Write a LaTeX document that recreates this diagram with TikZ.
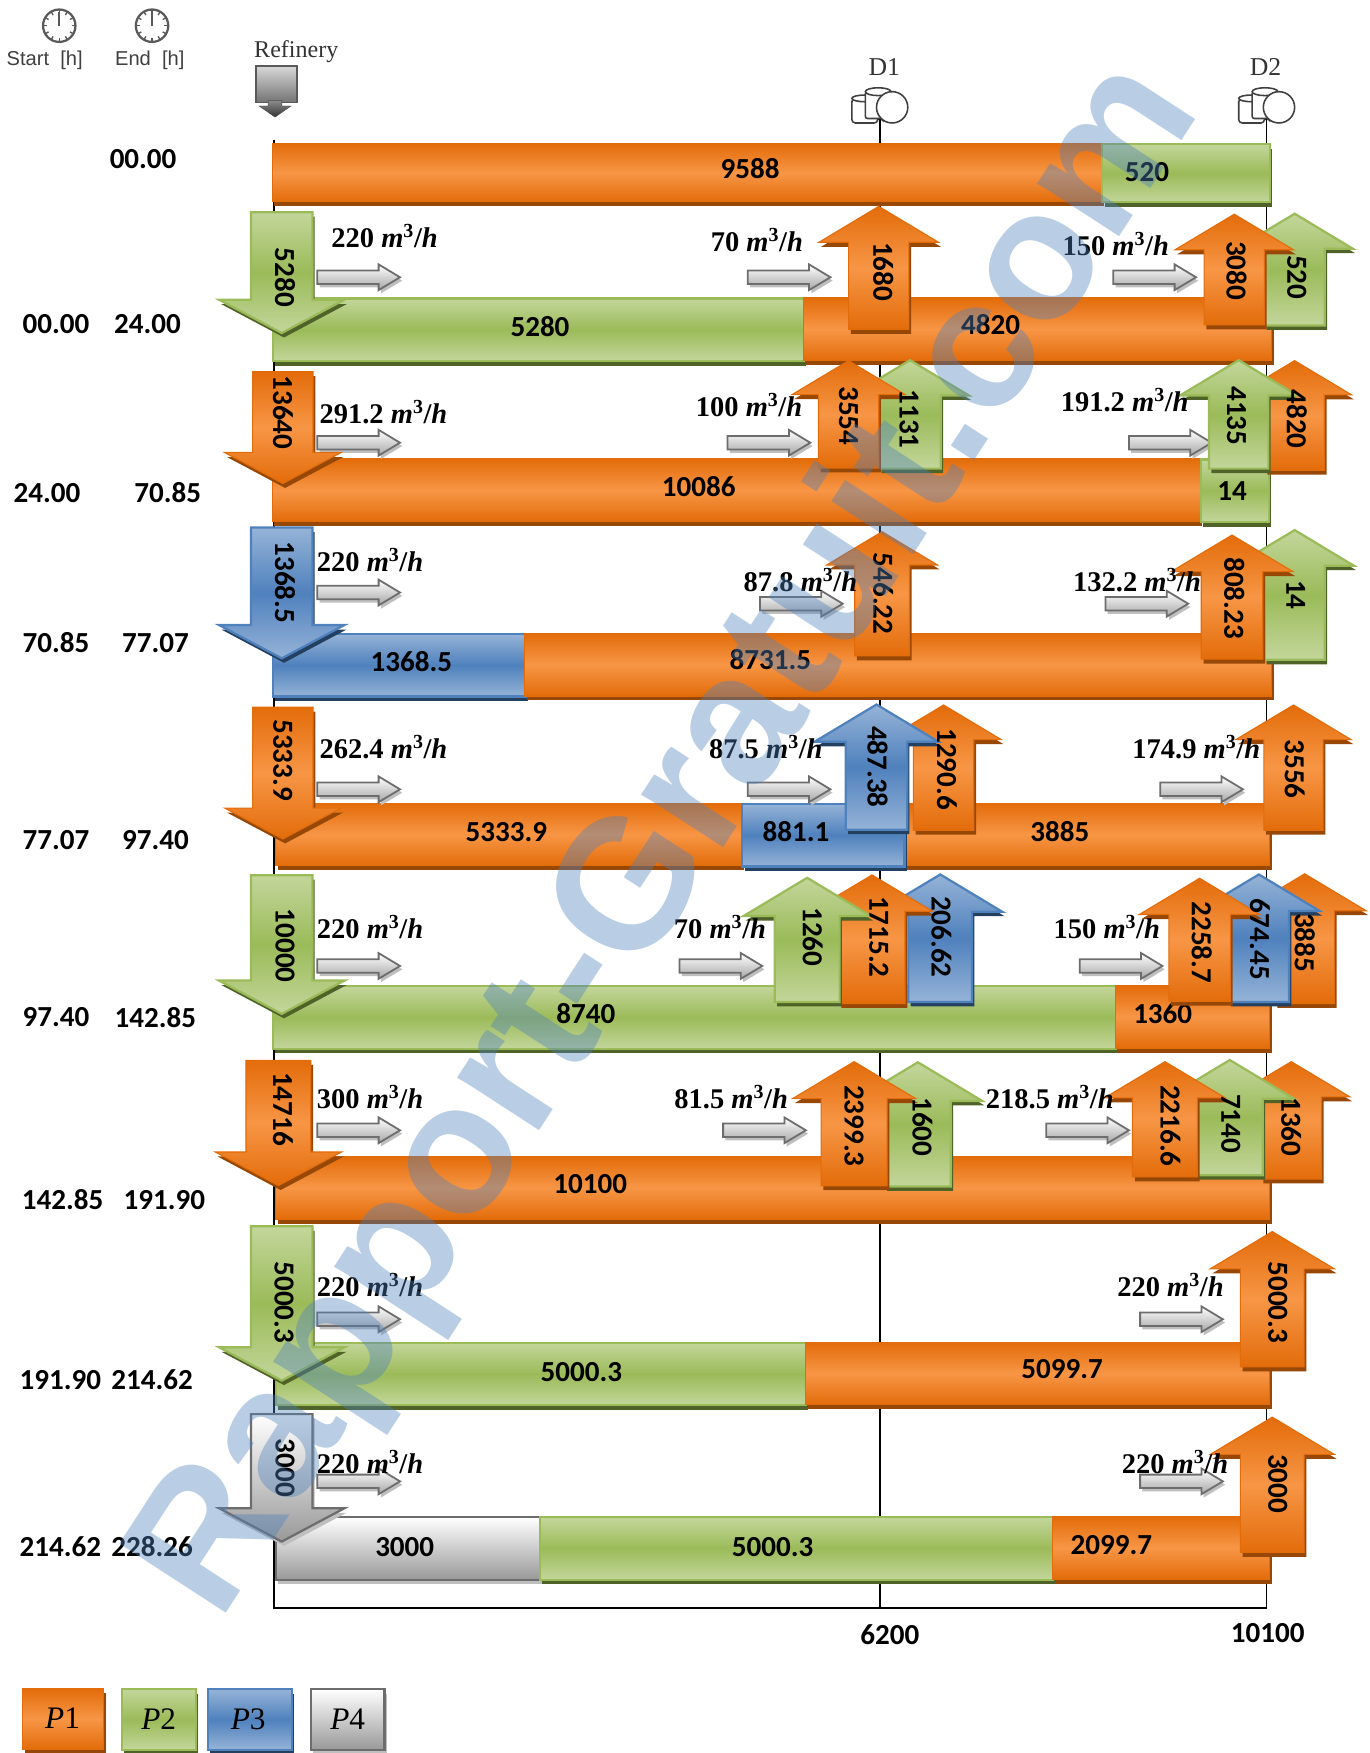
\documentclass[tikz,border=0pt]{standalone}
\usepackage{fontspec}
\usepackage{xcolor}
\usetikzlibrary{arrows.meta, shapes.arrows, shadows}
\setmainfont{Carlito}
\newfontfamily\ratefont{Liberation Serif}
\newfontfamily\headfont{Liberation Sans}
\definecolor{oilmid}{HTML}{f79646}
\definecolor{oiledge}{HTML}{e36c0a}
\definecolor{oildark}{HTML}{974806}
\definecolor{greenmid}{HTML}{9bbb59}
\definecolor{greenedge}{HTML}{c3d69b}
\definecolor{greendark}{HTML}{4f6228}
\definecolor{bluemid}{HTML}{4f81bd}
\definecolor{blueedge}{HTML}{95b3d7}
\definecolor{bluedark}{HTML}{244061}
\definecolor{greyline}{HTML}{6d6d6d}
\definecolor{greydark}{HTML}{bfbfbf}
\definecolor{markblue}{HTML}{4f81bd}
\newcommand{\rate}[1]{{\ratefont\bfseries #1 \textit{m}\textsuperscript{3}/\textit{h}}}

\begin{document}
\begin{tikzpicture}[
  x=1pt, y=-1pt,
  >=Stealth,
  p1/.style={top color=oiledge, bottom color=oiledge, middle color=oilmid, draw=oiledge, line width=1pt,
    drop shadow={shadow xshift=2pt, shadow yshift=-4pt, fill=oildark, opacity=1}},
  p2/.style={top color=greenedge, bottom color=greenedge, middle color=greenmid, draw=greenmid, line width=2pt,
    drop shadow={shadow xshift=2pt, shadow yshift=-4pt, fill=greendark, opacity=1}},
  p3/.style={top color=blueedge, bottom color=blueedge, middle color=bluemid, draw=bluemid, line width=2pt,
    drop shadow={shadow xshift=2pt, shadow yshift=-4pt, fill=bluedark, opacity=1}},
  p4/.style={top color=white, bottom color=black!40, draw=greyline, line width=2pt,
    drop shadow={shadow xshift=2pt, shadow yshift=-4pt, fill=greydark, opacity=1}},
  barbox/.style={rectangle, anchor=north west, inner sep=0pt, minimum height=56pt},
  uparr/.style={single arrow, anchor=tip, shape border rotate=90, inner ysep=0pt, single arrow tip angle=118},
  downarr/.style={single arrow, anchor=tip, shape border rotate=270, inner ysep=0pt, single arrow tip angle=124},
  flowarr/.style={single arrow, anchor=tail, shape border rotate=0, inner xsep=0pt, inner ysep=5.2pt,
    minimum height=74pt, single arrow head extend=5.5pt, single arrow tip angle=62,
    top color=white, bottom color=black!35, draw=greyline, line width=1.6pt,
    drop shadow={shadow xshift=2pt, shadow yshift=-3pt, fill=greydark, opacity=1}},
  numtxt/.style={font=\fontsize{26}{28}\selectfont\bfseries, inner sep=0pt},
  sidetxt/.style={numtxt, rotate=-90},
  ratetxt/.style={font=\fontsize{25.5}{28}\selectfont, inner sep=0pt},
  headtxt/.style={font=\fontsize{18}{20}\selectfont\headfont, text=black!75, inner sep=0pt},
  sitetxt/.style={font=\fontsize{23}{26}\selectfont\ratefont, text=black!80, inner sep=0pt},
  legbox/.style={rectangle, anchor=north west, inner sep=0pt, minimum height=54pt},
  legtxt/.style={font=\fontsize{28}{30}\selectfont\ratefont, inner sep=0pt},
  tankline/.style={draw=black!75, line width=1.4pt, fill=white}
]
\useasboundingbox (0,0) rectangle (1225,1568);

% ---- Axes ----
\coordinate (axr) at (245,125);
\coordinate (axo) at (245,1438);
\coordinate (ax1) at (787,100);
\coordinate (ax1b) at (787,1438);
\coordinate (ax2) at (1133,100);
\coordinate (ax2b) at (1133,1438);
\draw[line width=1.6pt] (axr) -- (axo) -- (ax2b);
\draw[->, line width=1.4pt] (ax1b) -- (ax1);
\draw[->, line width=1.4pt] (ax2b) -- (ax2);
\node[numtxt] (lab6200) at (796,1462) {6200};
\node[numtxt] (lab10100) at (1134,1461) {10100};

% ---- Header icons ----
\foreach \x/\txt/\tx in {53/Start/40, 136/End/134} {
  \draw[draw=black!65, line width=2pt, fill=white] (\x,23) circle (14.5);
  \foreach \a in {0,30,...,330}
    \draw[black!65, line width=1.2pt] (\x,23) ++(\a:14.5) -- ++(\a:-3.5);
  \draw[black!65, line width=2.2pt] (\x,23) -- (\x,11);
  \node[headtxt] (head\txt) at (\tx,54) {\txt\ \ [h]};
}
\node[sitetxt, font=\fontsize{21.5}{24}\selectfont\ratefont] (refinery) at (265,46) {Refinery};
\node[rectangle, anchor=north west, inner sep=0pt, minimum width=37pt, minimum height=33pt,
  top color=black!15, bottom color=black!55, draw=black!65, line width=1.5pt] (refbox) at (228,58) {};
\node[single arrow, anchor=tip, shape border rotate=270, inner ysep=0pt, inner xsep=6pt, minimum height=15pt,
  single arrow head extend=8pt, single arrow tip angle=110, top color=black!45, bottom color=black!80, draw=black!70] (refarr) at (246,105) {};

% ---- Tanks ----
\foreach \x/\site/\tx in {787/D1/791, 1133/D2/1132} {
  \node[sitetxt] (site\site) at (\tx,60) {\site};
  \draw[tankline, rounded corners=3pt] (\x-25,88) -- (\x-25,110) -- (\x-2,110) -- (\x-2,88) -- cycle;
  \draw[tankline] (\x-13.5,88) ellipse (11.5 and 3);
  \draw[tankline, rounded corners=2pt] (\x-13,82) -- (\x-13,106) -- (\x+10,106) -- (\x+10,82) -- cycle;
  \draw[tankline] (\x-1.5,82) ellipse (11.5 and 3.5);
  \draw[tankline] (\x+11,96) circle (14);
}

% ---- Batches ----
\node[barbox, p1, minimum width=742pt, minimum height=52pt] (a1) at (243,128) {};
\node[barbox, p2, minimum width=150pt, minimum height=52pt] (a2) at (985,128) {};
\node[numtxt] (a1t) at (671,151) {9588};
\node[numtxt] (a2t) at (1026,154) {520};
\foreach \nm/\col/\xa/\xb/\yt/\tx/\ty/\val in {
  b1/p2/243/718/266/483/292/5280, b2/p1/718/1137/266/886/290/4820,
  c1/p1/243/1073/410/625/435/10086, c2/p2/1073/1134/410/1102/439/14,
  d1/p3/243/469/566/368/592/1368.5, d2/p1/469/1137/566/689/590/8731.5,
  e1/p1/246/663/718/453/744/5333.9, e3/p1/808/1135/718/948/744/3885, e2/p3/663/808/718/712/744/881.1,
  f1/p2/243/997/881/524/907/8740, f2/p1/997/1135/881/1040/907/1360,
  g1/p1/246/1135/1034/528/1059/10100,
  h1/p2/246/720/1200/520/1227/5000.3, h2/p1/720/1135/1200/950/1225/5099.7,
  i1/p4/246/482/1356/362/1384/3000, i2/p2/482/941/1356/691/1384/5000.3, i3/p1/941/1135/1356/994/1382/2099.7} {
  \node[barbox, \col, minimum width={(\xb-\xa)*1pt}] (\nm) at (\xa,\yt) {};
  \node[numtxt] (\nm t) at (\tx,\ty) {\val};
}

% ---- Flow arrows ----
\foreach \nm/\ax/\ay in {
  fb1/283/248, fb2/668/248, fb3/995/248,
  fc1/283/396, fc2/650/396, fc3/1009/396,
  fd1/283/530, fd2/679/540, fd3/988/540,
  fe1/283/706, fe2/668/706, fe3/1037/706,
  ff1/283/864, ff2/607/864, ff3/965/864,
  fg1/283/1011, fg2/646/1011, fg3/935/1011,
  fh1/283/1180, fh2/1019/1180,
  fi1/283/1325, fi2/1019/1325} {
  \node[flowarr] (\nm) at (\ax,\ay) {};
}

% ---- Injections at the refinery ----
\foreach \nm/\col/\cx/\yt/\yb/\sw/\hw in {
  db/p2/252/299/191/53/110,
  dc/p1/253/433/333/53/103,
  dd/p3/252/590/473/53/110,
  de/p1/253/751/633/53/103,
  df/p2/252/908/784/53/110,
  dg/p1/249/1061/949/57/112,
  dh/p2/252/1236/1098/53/110,
  di/p4/252/1380/1266/53/110} {
  \node[downarr, \col, inner xsep=\sw/2*1pt, single arrow head extend={(\hw-\sw)/2*1pt}, minimum height={(\yt-\yb)*1pt}] (\nm) at (\cx,\yt) {};
}

% ---- Deliveries at the depots ----
\foreach \nm/\col/\cx/\yt/\yb/\sw/\hw in {
  ub1/p1/786/184/294/53/106,
  ub3/p2/1158/190/290/52/102,
  ub2/p1/1104/191/290/53/105,
  uc2/p2/814/321/418/53/103,
  uc1/p1/759/322/418/53/100,
  uc4/p1/1158/322/420/52/101,
  uc3/p2/1108/321/418/51/103,
  ud1/p1/789/475/586/48/98,
  ud3/p2/1158/473/589/52/104,
  ud2/p1/1102/478/589/54/108,
  ue2/p1/844/630/742/53/102,
  ue1/p3/784/629/741/53/109,
  ue3/p1/1157/630/742/52/102,
  uf3/p3/841/781/895/55/109,
  uf2/p1/780/782/897/58/107,
  uf1/p2/722/784/895/56/112,
  uf6/p1/1167/781/897/52/109,
  uf5/p3/1126/781/895/52/107,
  uf4/p1/1073/785/895/54/107,
  ug2/p2/821/949/1060/57/113,
  ug1/p1/764/949/1060/58/109,
  ug5/p1/1155/949/1054/53/104,
  ug4/p2/1100/947/1050/57/113,
  ug3/p1/1042/949/1052/57/107,
  uh1/p1/1138/1101/1222/56/110,
  ui1/p1/1138/1267/1388/56/110} {
  \node[uparr, \col, inner xsep=\sw/2*1pt, single arrow head extend={(\hw-\sw)/2*1pt}, minimum height={(\yb-\yt)*1pt}] (\nm) at (\cx,\yt) {};
}

% ---- Volumes on the arrows ----
\foreach \nm/\tx/\ty/\val in {
  dbt/255/248/5280, dct/253/369/13640, ddt/255/521/1368.5, det/253/680/5333.9,
  dft/255/846/10000, dgt/253/992/14716, dht/254/1165/5000.3, dit/255/1313/3000,
  ub1t/790/243/1680, ub2t/1106/242/3080, ub3t/1160/248/520,
  uc1t/759/372/3554, uc2t/813/375/1131, uc3t/1106/372/4135, uc4t/1160/375/4820,
  ud1t/790/531/546.22, ud2t/1104/535/808.23, ud3t/1159/532/14,
  ue1t/785/686/487.38, ue2t/847/688/1290.6, ue3t/1158/688/3556,
  uf1t/727/838/1260, uf2t/786/838/1715.2, uf3t/842/838/206.62,
  uf4t/1075/843/2258.7, uf5t/1127/840/674.45, uf6t/1167/843/3885,
  ug1t/764/1007/2399.3, ug2t/825/1008/1600, ug3t/1047/1007/2216.6, ug4t/1101/1005/7140, ug5t/1155/1008/1360,
  uh1t/1143/1165/5000.3, ui1t/1143/1327/3000} {
  \node[sidetxt] (\nm) at (\tx,\ty) {\val};
}

% ---- Pumping rates ----
\foreach \nm/\tx/\ty/\val in {
  rb1/344/211/220, rb2/677/215/70, rb3/998/218/150,
  rc1/343/369/291.2, rc2/670/362/100, rc3/1006/358/191.2,
  rd1/331/501/220, rd2/716/519/87.8, rd3/1017/519/132.2,
  re1/343/668/262.4, re2/685/668/87.5, re3/1070/668/174.9,
  rf1/331/829/220, rf2/644/829/70, rf3/990/829/150,
  rg1/331/981/300, rg2/654/981/81.5, rg3/939/981/218.5,
  rh1/331/1149/220, rh2/1047/1149/220,
  ri1/331/1308/220, ri2/1051/1308/220} {
  \node[ratetxt] (\nm) at (\tx,\ty) {\rate{\val}};
}

% ---- Time columns ----
\foreach \nm/\tx/\ty/\val in {
  ta/128/142/00.00,
  tb1/50/290/00.00, tb2/132/290/24.00,
  tc1/42/441/24.00, tc2/150/441/70.85,
  td1/50/575/70.85, td2/139/575/77.07,
  te1/50/751/77.07, te2/139/751/97.40,
  tf1/50/910/97.40, tf2/139/910/142.85,
  tg1/56/1073/142.85, tg2/147/1073/191.90,
  th1/54/1234/191.90, th2/136/1234/214.62,
  ti1/54/1383/214.62, ti2/136/1383/228.26} {
  \node[numtxt] (\nm) at (\tx,\ty) {\val};
}

% ---- Legend ----
\node[legbox, p1, minimum width=72pt] (leg1) at (20,1510) {};
\node[legbox, p2, minimum width=66pt] (leg2) at (108,1510) {};
\node[legbox, p3, minimum width=75pt] (leg3) at (185,1510) {};
\node[legbox, p4, minimum width=66pt] (leg4) at (277,1510) {};
\node[legtxt] (legt1) at (56,1537) {\textit{P}1};
\node[legtxt] (legt2) at (142,1538) {\textit{P}2};
\node[legtxt] (legt3) at (222,1538) {\textit{P}3};
\node[legtxt] (legt4) at (311,1538) {\textit{P}4};

% ---- Watermark ----
\node[rotate=57, text=markblue, text opacity=0.4, inner sep=0pt,
  font=\fontsize{165}{176}\selectfont\headfont\bfseries] (mark) at (600,752) {Rapport-Gratuit.com};
\end{tikzpicture}
\end{document}
